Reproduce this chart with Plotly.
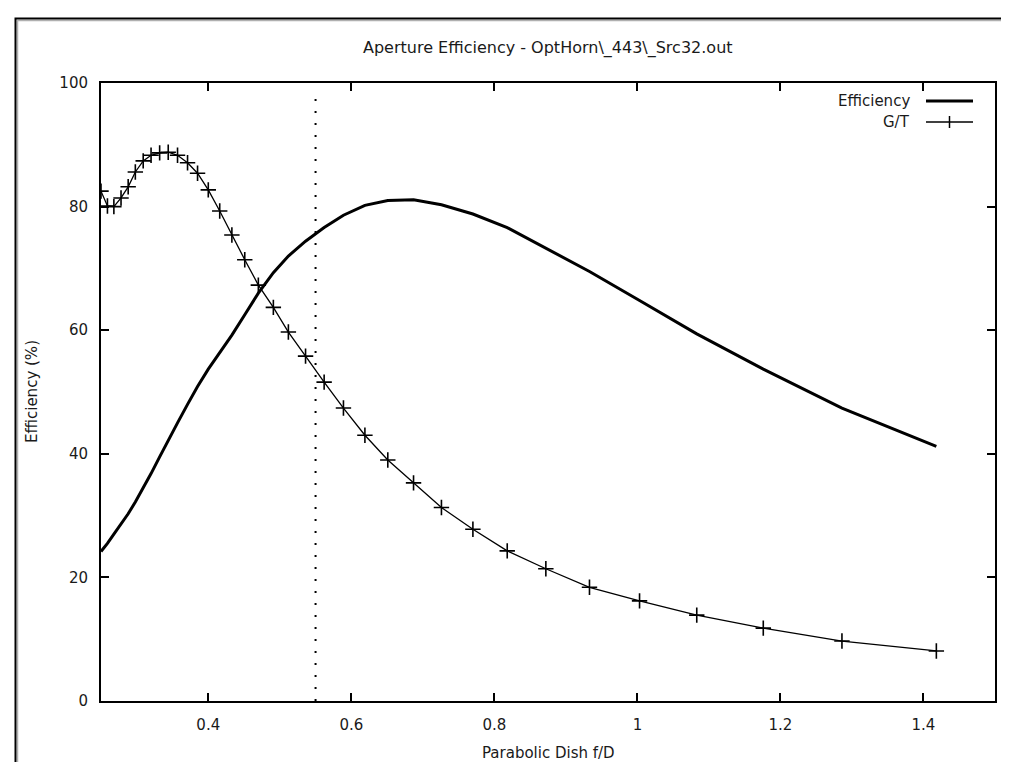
import plotly.graph_objects as go

# f/D values (x) shared by both series
fd = [0.250, 0.259, 0.268, 0.278, 0.288, 0.298, 0.309, 0.320, 0.332, 0.344,
      0.357, 0.371, 0.385, 0.400, 0.416, 0.433, 0.451, 0.470, 0.491, 0.512,
      0.536, 0.562, 0.589, 0.619, 0.651, 0.687, 0.726, 0.770, 0.818, 0.872,
      0.933, 1.003, 1.083, 1.176, 1.286, 1.418]

efficiency = [24.2, 25.5, 27.0, 28.6, 30.3, 32.2, 34.4, 36.8, 39.5, 42.2,
              45.0, 48.0, 50.9, 53.7, 56.4, 59.2, 62.5, 66.0, 69.3, 72.0,
              74.4, 76.6, 78.6, 80.2, 81.0, 81.1, 80.3, 78.8, 76.6, 73.3,
              69.5, 64.8, 59.4, 53.7, 47.4, 41.2]

g_over_t = [82.5, 80.1, 80.0, 81.4, 83.2, 85.6, 87.4, 88.3, 88.7, 88.8,
            88.3, 87.1, 85.4, 82.7, 79.3, 75.4, 71.4, 67.3, 63.7, 59.7,
            55.8, 51.6, 47.4, 43.0, 39.0, 35.3, 31.3, 27.8, 24.3, 21.4,
            18.4, 16.2, 13.9, 11.8, 9.7, 8.1]

marker_x = [0.55, 0.55]
marker_y = [0, 98]

x_ticks = [0.4, 0.6, 0.8, 1.0, 1.2, 1.4]
x_tick_labels = ["0.4", "0.6", "0.8", "1", "1.2", "1.4"]
y_ticks = [0, 20, 40, 60, 80, 100]

title_text = "Aperture Efficiency - OptHorn\\_443\\_Src32.out"
x_title = "Parabolic Dish f/D"
y_title = "Efficiency (%)"
legend_names = ["Efficiency", "G/T"]

FONT = "DejaVu Sans"
FS = 15
TXT = "#1a1a1a"

fig = go.Figure()

fig.add_trace(go.Scatter(x=marker_x, y=marker_y, mode="lines",
                         line=dict(color="black", width=2, dash="2px,10px"),
                         showlegend=False, hoverinfo="skip"))
fig.add_trace(go.Scatter(x=fd, y=efficiency, mode="lines", name=legend_names[0],
                         line=dict(color="black", width=3), showlegend=False))
fig.add_trace(go.Scatter(x=fd, y=g_over_t, mode="lines+markers", name=legend_names[1],
                         line=dict(color="black", width=1.3),
                         marker=dict(symbol="cross-thin-open", size=11,
                                     line=dict(color="black", width=1.6)),
                         showlegend=False))

axis_common = dict(showline=True, linecolor="black", linewidth=2, mirror="ticks",
                   ticks="inside", ticklen=8, tickwidth=2, tickcolor="black",
                   showgrid=False, zeroline=False,
                   tickfont=dict(family=FONT, size=FS, color=TXT))

fig.update_xaxes(range=[0.25, 1.5], tickvals=x_ticks, ticktext=x_tick_labels,
                 ticklabelstandoff=9, **axis_common)
fig.update_yaxes(range=[0, 100], tickvals=y_ticks, ticklabelstandoff=8, **axis_common)

annotations = [
    dict(text=title_text, x=0.5, y=(693 - 40) / 618, xref="paper", yref="paper",
         xanchor="center", yanchor="middle", showarrow=False,
         font=dict(family=FONT, size=16, color=TXT)),
    dict(text=x_title, x=0.5, y=(693 - 745) / 618, xref="paper", yref="paper",
         xanchor="center", yanchor="middle", showarrow=False,
         font=dict(family=FONT, size=FS, color=TXT)),
    dict(text=y_title, x=(24 - 93) / 894, y=0.5, xref="paper", yref="paper",
         xanchor="center", yanchor="middle", textangle=-90, showarrow=False,
         font=dict(family=FONT, size=FS, color=TXT)),
]

# legend (gnuplot style: text left of sample)
leg_y = [(693 - 93) / 618, (693 - 114) / 618]
text_right = (904 - 93) / 894
s0, s1 = (918 - 93) / 894, (965 - 93) / 894
for name, yy in zip(legend_names, leg_y):
    annotations.append(dict(text=name, x=text_right, y=yy, xref="paper", yref="paper",
                            xanchor="right", yanchor="middle", showarrow=False,
                            font=dict(family=FONT, size=FS, color=TXT)))

shapes = [
    dict(type="line", xref="paper", yref="paper", x0=s0, x1=s1, y0=leg_y[0], y1=leg_y[0],
         line=dict(color="black", width=3)),
    dict(type="line", xref="paper", yref="paper", x0=s0, x1=s1, y0=leg_y[1], y1=leg_y[1],
         line=dict(color="black", width=1.3)),
    dict(type="line", xref="paper", yref="paper", x0=(s0 + s1) / 2, x1=(s0 + s1) / 2,
         y0=leg_y[1] - 6 / 618, y1=leg_y[1] + 6 / 618, line=dict(color="black", width=1.5)),
    # outer frame of the original window (with light shadow)
    dict(type="rect", xref="paper", yref="paper", x0=(9.5 - 93) / 894, x1=1.2,
         y0=-0.3, y1=(693 - 12.5) / 618, line=dict(color="#b0b0b0", width=1.5)),
    dict(type="rect", xref="paper", yref="paper", x0=(7.5 - 93) / 894, x1=1.2,
         y0=-0.3, y1=(693 - 10.5) / 618, line=dict(color="black", width=2)),
]

fig.update_layout(width=1009, height=762,
                  margin=dict(l=93, r=22, t=75, b=69),
                  paper_bgcolor="white", plot_bgcolor="white",
                  annotations=annotations, shapes=shapes, showlegend=False)

fig.write_html("out.html")
